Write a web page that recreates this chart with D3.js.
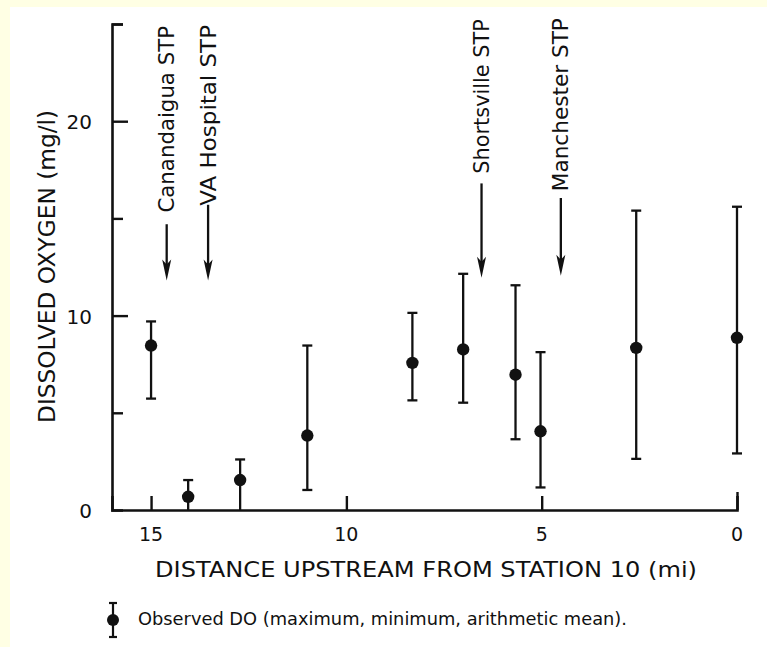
<!DOCTYPE html>
<html>
<head>
<meta charset="utf-8">
<script src="https://cdn.jsdelivr.net/npm/d3@7"></script>
<style>
  html, body { margin: 0; padding: 0; background: #ffffff; }
  svg { display: block; }
  text { font-family: "DejaVu Sans", "Noto Sans", sans-serif; fill: #111; }
</style>
</head>
<body>
<script>
// ---- data ----
const distance = [15.0, 14.05, 12.72, 11.0, 8.31, 7.01, 5.67, 5.03, 2.58, 0.0];
const doMean   = [8.46, 0.68, 1.54, 3.83, 7.57, 8.26, 6.96, 4.05, 8.34, 8.86];
const doMax    = [9.7, 1.54, 2.6, 8.46, 10.14, 12.15, 11.56, 8.12, 15.4, 15.6];
const doMin    = [5.73, 0.0, 0.0, 1.03, 5.64, 5.52, 3.64, 1.16, 2.63, 2.91];

const xTicks = [15, 10, 5, 0];
const yTicks = [0, 5, 10, 15, 20, 25];
const yTickLabels = [0, 10, 20];

const stpNames   = ["Canandaigua STP", "VA Hospital STP", "Shortsville STP", "Manchester STP"];
const stpDist    = [14.6, 13.54, 6.54, 4.51];
const arrowTip   = [11.8, 11.8, 11.95, 12.05];
const arrowTail  = [14.7, 15.7, 16.8, 16.05];
const labelStart = [15.3, 15.65, 17.3, 16.4];
const labelEnd   = [24.9, 24.95, 25.25, 25.3];

const xTitle = "DISTANCE  UPSTREAM  FROM  STATION  10  (mi)";
const yTitle = "DISSOLVED  OXYGEN  (mg/l)";
const legendText = "Observed DO (maximum, minimum, arithmetic mean).";

// ---- layout ----
const W = 767, H = 647;
const svg = d3.select("body").append("svg").attr("width", W).attr("height", H);

svg.append("rect").attr("width", W).attr("height", H).attr("fill", "#ffffff");
svg.append("rect").attr("x", 0).attr("y", 0).attr("width", W).attr("height", 7).attr("fill", "#ffffe4");
svg.append("rect").attr("x", 0).attr("y", 0).attr("width", 10).attr("height", H).attr("fill", "#ffffe4");

const x = d3.scaleLinear().domain([16, 0]).range([112, 737]);
const y = d3.scaleLinear().domain([0, 25]).range([510, 24]);

const ink = "#111";

// ---- y axis ----
const yAxis = d3.axisRight(y).tickValues(yTicks).tickFormat("")
  .tickSizeOuter(0).tickSize(11);
const gy = svg.append("g").attr("transform", `translate(${x(16)},0)`).call(yAxis);
gy.select(".domain").attr("stroke", ink).attr("stroke-width", 2.6);
gy.selectAll(".tick line").attr("stroke", ink).attr("stroke-width", 2.4)
  .attr("x2", d => yTickLabels.includes(d) ? 16 : 11);
gy.selectAll(".tick").filter(d => d === 0).remove();

svg.append("g").selectAll("text").data(yTickLabels).join("text")
  .attr("x", 92).attr("y", d => y(d) + 8)
  .attr("text-anchor", "end").attr("font-size", 20)
  .text(d => d);

// ---- x axis ----
const xAxis = d3.axisTop(x).tickValues(xTicks).tickFormat("").tickSizeOuter(0).tickSize(14);
const gx = svg.append("g").attr("transform", `translate(0,${y(0)})`).call(xAxis);
gx.select(".domain").attr("stroke", ink).attr("stroke-width", 2.6);
gx.selectAll(".tick line").attr("stroke", ink).attr("stroke-width", 2.4)
  .attr("y2", d => d === 0 ? -18 : -14);

svg.append("g").selectAll("text").data(xTicks).join("text")
  .attr("x", d => x(d)).attr("y", y(0) + 31)
  .attr("text-anchor", "middle").attr("font-size", 19)
  .text(d => d);

// axis titles
svg.append("text").attr("x", 155).attr("y", 577)
  .attr("font-size", 21.5).attr("textLength", 542).attr("lengthAdjust", "spacingAndGlyphs")
  .text(xTitle);

svg.append("text").attr("transform", "translate(55,423) rotate(-90)")
  .attr("font-size", 22.5).attr("textLength", 313).attr("lengthAdjust", "spacingAndGlyphs")
  .text(yTitle);

// ---- error bars ----
const idx = d3.range(distance.length);
const bars = svg.append("g");
bars.selectAll("line.v").data(idx).join("line").attr("class", "v")
  .attr("x1", i => x(distance[i])).attr("x2", i => x(distance[i]))
  .attr("y1", i => y(doMax[i])).attr("y2", i => y(doMin[i]))
  .attr("stroke", ink).attr("stroke-width", 2.3);
bars.selectAll("line.capT").data(idx).join("line").attr("class", "capT")
  .attr("x1", i => x(distance[i]) - 5).attr("x2", i => x(distance[i]) + 5)
  .attr("y1", i => y(doMax[i])).attr("y2", i => y(doMax[i]))
  .attr("stroke", ink).attr("stroke-width", 2.3);
bars.selectAll("line.capB").data(idx.filter(i => doMin[i] > 0)).join("line").attr("class", "capB")
  .attr("x1", i => x(distance[i]) - 5).attr("x2", i => x(distance[i]) + 5)
  .attr("y1", i => y(doMin[i])).attr("y2", i => y(doMin[i]))
  .attr("stroke", ink).attr("stroke-width", 2.3);
bars.selectAll("circle").data(idx).join("circle")
  .attr("cx", i => x(distance[i])).attr("cy", i => y(doMean[i])).attr("r", 6.2)
  .attr("fill", ink);

// ---- STP annotations ----
const ann = svg.append("g");
const aidx = d3.range(stpNames.length);
ann.selectAll("line").data(aidx).join("line")
  .attr("x1", i => x(stpDist[i])).attr("x2", i => x(stpDist[i]))
  .attr("y1", i => y(arrowTail[i])).attr("y2", i => y(arrowTip[i]) - 10)
  .attr("stroke", ink).attr("stroke-width", 2.3);
ann.selectAll("path").data(aidx).join("path")
  .attr("d", i => {
    const cx = x(stpDist[i]), ty = y(arrowTip[i]);
    return `M${cx},${ty} L${cx - 4.5},${ty - 21} L${cx},${ty - 16} L${cx + 4.5},${ty - 21} Z`;
  })
  .attr("fill", ink);
ann.selectAll("text").data(aidx).join("text")
  .attr("transform", i => `translate(${x(stpDist[i])},${y(labelStart[i])}) rotate(-90)`)
  .attr("dy", "0.34em")
  .attr("font-size", 22)
  .attr("textLength", i => y(labelStart[i]) - y(labelEnd[i]))
  .attr("lengthAdjust", "spacingAndGlyphs")
  .text(i => stpNames[i]);

// ---- legend ----
const lg = svg.append("g");
lg.append("line").attr("x1", 113).attr("x2", 113).attr("y1", 603).attr("y2", 637)
  .attr("stroke", ink).attr("stroke-width", 2.2);
lg.append("line").attr("x1", 109).attr("x2", 117).attr("y1", 603).attr("y2", 603)
  .attr("stroke", ink).attr("stroke-width", 2.2);
lg.append("line").attr("x1", 109).attr("x2", 117).attr("y1", 637).attr("y2", 637)
  .attr("stroke", ink).attr("stroke-width", 2.2);
lg.append("circle").attr("cx", 113).attr("cy", 620).attr("r", 6).attr("fill", ink);
lg.append("text").attr("x", 138).attr("y", 625)
  .attr("font-size", 17.5).attr("textLength", 489).attr("lengthAdjust", "spacingAndGlyphs")
  .text(legendText);
</script>
</body>
</html>
